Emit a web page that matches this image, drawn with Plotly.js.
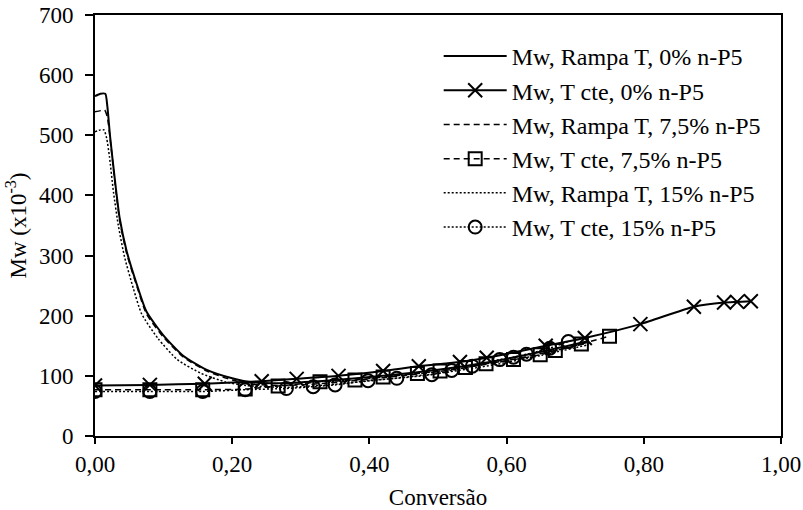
<!DOCTYPE html>
<html><head><meta charset="utf-8">
<script src="https://cdn.plot.ly/plotly-3.0.1.min.js"></script>
<style>html,body{margin:0;padding:0;background:#fff}#chart{width:803px;height:510px}</style>
</head><body><div id="chart"></div>
<script>
// Series names
const names = ["Mw, Rampa T, 0% n-P5","Mw, T cte, 0% n-P5","Mw, Rampa T, 7,5% n-P5","Mw, T cte, 7,5% n-P5","Mw, Rampa T, 15% n-P5","Mw, T cte, 15% n-P5"];

// Rampa T, 0% n-P5
const convRampa0 = [0, 0.008, 0.015, 0.018, 0.022, 0.029, 0.036, 0.046, 0.061, 0.075, 0.10, 0.129, 0.163, 0.20, 0.23, 0.28, 0.35, 0.42, 0.50, 0.58, 0.65, 0.72];
const mwRampa0   = [565, 569, 569, 548, 498, 426, 362, 308, 252, 207, 167, 133, 110, 96, 89, 88, 93, 100, 110, 124, 140, 158];

// T cte, 0% n-P5
const convCte0 = [0, 0.08, 0.16, 0.243, 0.294, 0.355, 0.42, 0.472, 0.532, 0.571, 0.657, 0.714, 0.795, 0.873, 0.917, 0.936, 0.956];
const mwCte0   = [84, 85, 87, 91, 95, 100, 108, 116, 123, 130, 150, 163, 186, 215, 222, 223, 224];

// Rampa T, 7,5% n-P5
const convRampa75 = [0, 0.008, 0.014, 0.018, 0.022, 0.029, 0.036, 0.046, 0.061, 0.075, 0.10, 0.129, 0.163, 0.20, 0.23, 0.28, 0.35, 0.42, 0.50, 0.58, 0.65, 0.72];
const mwRampa75   = [539, 541, 542, 530, 495, 422, 358, 304, 249, 203, 164, 131, 108, 93, 86, 84, 89, 97, 107, 121, 137, 155];

// T cte, 7,5% n-P5
const convCte75 = [0, 0.08, 0.157, 0.219, 0.267, 0.328, 0.379, 0.42, 0.47, 0.503, 0.54, 0.57, 0.61, 0.649, 0.671, 0.709, 0.75];
const mwCte75   = [77, 77, 77, 78, 83, 90, 93, 98, 104, 108, 114, 120, 127, 135, 142, 153, 166];

// Rampa T, 15% n-P5
const convRampa15 = [0, 0.008, 0.013, 0.017, 0.021, 0.027, 0.034, 0.043, 0.056, 0.068, 0.092, 0.12, 0.155, 0.19, 0.22, 0.28, 0.35, 0.42, 0.50, 0.58, 0.65, 0.72];
const mwRampa15   = [506, 509, 509, 495, 465, 405, 350, 298, 245, 203, 162, 127, 104, 90, 84, 81, 86, 94, 104, 118, 134, 152];

// T cte, 15% n-P5
const convCte15 = [0, 0.08, 0.157, 0.219, 0.279, 0.318, 0.35, 0.398, 0.44, 0.491, 0.52, 0.55, 0.59, 0.61, 0.629, 0.663, 0.69];
const mwCte15   = [74, 74, 74, 77, 79, 82, 85, 92, 96, 102, 109, 116, 127, 131, 136, 146, 157];

const xTickVals = [0, 0.2, 0.4, 0.6, 0.8, 1.0];
const xTickText = ["0,00","0,20","0,40","0,60","0,80","1,00"];
const yTickVals = [0,100,200,300,400,500,600,700];

const black = "#000";
const traces = [
  {x: convRampa0, y: mwRampa0, name: names[0], legendgroup: "g1", mode: "lines",
   line: {color: black, width: 2, shape: "spline", smoothing: 0.6}},
  {x: convCte0, y: mwCte0, name: names[1], legendgroup: "g2", mode: "lines+markers",
   line: {color: black, width: 2, shape: "spline", smoothing: 0.6},
   marker: {symbol: "x-thin", size: 14, color: black, line: {color: black, width: 2}}},
  {x: convRampa75, y: mwRampa75, name: names[2], legendgroup: "g3", mode: "lines",
   line: {color: black, width: 1.5, dash: "6px,4px", shape: "spline", smoothing: 0.6}},
  {x: convCte75, y: mwCte75, name: names[3], legendgroup: "g4", mode: "lines+markers",
   line: {color: black, width: 1.5, dash: "6px,4px", shape: "spline", smoothing: 0.6},
   marker: {symbol: "square-open", size: 13, color: black, line: {color: black, width: 2}}},
  {x: convRampa15, y: mwRampa15, name: names[4], legendgroup: "g5", mode: "lines",
   line: {color: black, width: 1.5, dash: "2px,2px", shape: "spline", smoothing: 0.6}},
  {x: convCte15, y: mwCte15, name: names[5], legendgroup: "g6", mode: "lines+markers",
   line: {color: black, width: 1.5, dash: "2px,2px", shape: "spline", smoothing: 0.6},
   marker: {symbol: "circle-open", size: 13, color: black, line: {color: black, width: 2}}}
];

const family = "Liberation Serif, Times New Roman, serif";
const font = {family: family, size: 23, color: black};
const legFont = {family: family, size: 24, color: black};
const layout = {
  width: 803, height: 510,
  margin: {l: 95, r: 22, t: 15, b: 74, pad: 0},
  paper_bgcolor: "#fff", plot_bgcolor: "#fff",
  font: font,
  showlegend: true,
  legend: {x: 0.501, y: 0.955, xanchor: "left", yanchor: "top", bgcolor: "rgba(0,0,0,0)",
           font: legFont, itemwidth: 63, traceorder: "grouped", tracegroupgap: 0},
  xaxis: {range: [0, 1], tickvals: xTickVals, ticktext: xTickText, showgrid: false, zeroline: false,
          showline: true, linecolor: black, linewidth: 2, mirror: true, ticks: "outside",
          ticklen: 6, tickwidth: 2, tickcolor: black,
          title: {text: "Conversão", font: font, standoff: 16}},
  yaxis: {range: [0, 700], tickvals: yTickVals, showgrid: false, zeroline: false,
          showline: true, linecolor: black, linewidth: 2, mirror: true, ticks: "outside",
          ticklen: 8, tickwidth: 2, tickcolor: black, ticklabelstandoff: 7,
          title: {text: "Mw (x10<sup>-3</sup>)", font: font, standoff: 6}}
};
Plotly.newPlot("chart", traces, layout, {displayModeBar: false, staticPlot: true});
</script>
</body></html>
